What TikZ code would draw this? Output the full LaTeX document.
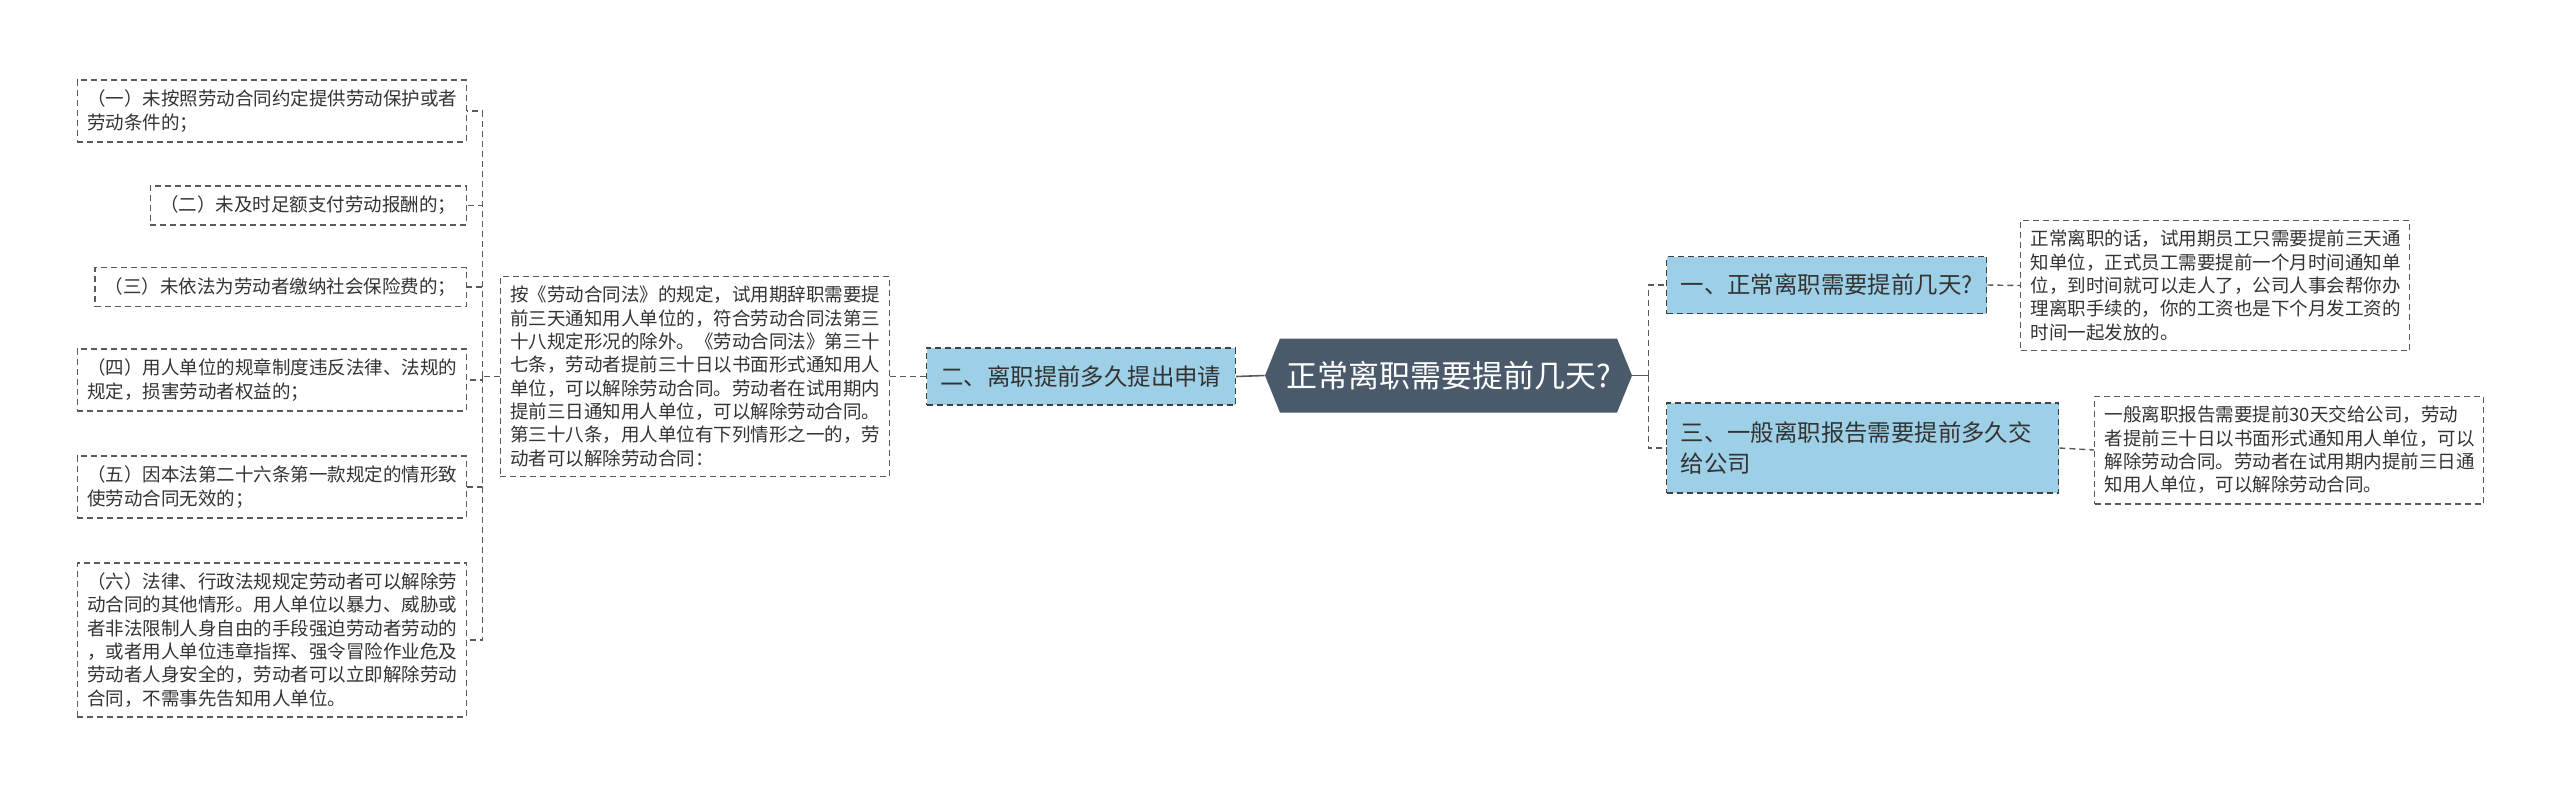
\documentclass[tikz,border=0pt]{standalone}
\usepackage{fontspec}
\setmainfont{Noto Sans CJK SC}
\usetikzlibrary{shapes.symbols}
\definecolor{topicblue}{HTML}{9DCFE6}
\definecolor{rootgray}{HTML}{4B5A6A}
\definecolor{linegray}{HTML}{5A5A5A}
\definecolor{textgray}{HTML}{333333}
\tikzset{
	leaf/.style		= {draw=linegray, line width=0.7pt, dash pattern=on 3pt off 2pt, fill=white,
					   text=textgray, font=\fontsize{9.25}{11.65}\selectfont, align=left,
					   inner xsep=5pt, inner ysep=5pt},
	topic/.style	= {draw=black!75, line width=0.7pt, dash pattern=on 3pt off 2pt, fill=topicblue,
					   text=textgray, font=\fontsize{11.7}{15.5}\selectfont, align=left,
					   inner xsep=7pt, inner ysep=5pt, minimum height=28.5pt},
	root/.style		= {signal, signal to=east and west, signal pointer angle=136, fill=rootgray,
					   text=white, font=\fontsize{15.5}{18}\selectfont,
					   minimum width=183.5pt, minimum height=37pt, inner xsep=2pt},
	link/.style		= {draw=linegray, line width=0.7pt, dash pattern=on 3pt off 2pt},
	trunk/.style	= {draw=linegray, line width=0.8pt}
}
\begin{document}
\begin{tikzpicture}[x=0.5pt, y=-0.5pt]
	% Cadre
	\useasboundingbox (0,0) rectangle (2560,800);
	% Racine
	\node [root] (root) at (1448.5,375.5) {正常离职需要提前几天?};
	% Branche gauche
	\node [topic, anchor=east]	(apply)	at (1236,376.5)	{二、离职提前多久提出申请};
	\node [leaf, anchor=east, text width=184.5pt] (law) at (890,376.5)
		{按《劳动合同法》的规定，试用期辞职需要提\\前三天通知用人单位的，符合劳动合同法第三\\十八规定形况的除外。《劳动合同法》第三十\\七条，劳动者提前三十日以书面形式通知用人\\单位，可以解除劳动合同。劳动者在试用期内\\提前三日通知用人单位，可以解除劳动合同。\\第三十八条，用人单位有下列情形之一的，劳\\动者可以解除劳动合同：};
	% Cas (un) a (six)
	\node [leaf, anchor=east, text width=184.5pt]	(c1) at (467,111)	{（一）未按照劳动合同约定提供劳动保护或者\\劳动条件的；};
	\node [leaf, anchor=east]						(c2) at (467,205.5)	{（二）未及时足额支付劳动报酬的；};
	\node [leaf, anchor=east]						(c3) at (467,287)	{（三）未依法为劳动者缴纳社会保险费的；};
	\node [leaf, anchor=east, text width=184.5pt]	(c4) at (467,380)	{（四）用人单位的规章制度违反法律、法规的\\规定，损害劳动者权益的；};
	\node [leaf, anchor=east, text width=184.5pt]	(c5) at (467,487)	{（五）因本法第二十六条第一款规定的情形致\\使劳动合同无效的；};
	\node [leaf, anchor=east, text width=184.5pt]	(c6) at (467,640)	{（六）法律、行政法规规定劳动者可以解除劳\\动合同的其他情形。用人单位以暴力、威胁或\\者非法限制人身自由的手段强迫劳动者劳动的\\，或者用人单位违章指挥、强令冒险作业危及\\劳动者人身安全的，劳动者可以立即解除劳动\\合同，不需事先告知用人单位。};
	% Branche droite
	\node [topic, anchor=west]	(one)	at (1666,285)	{一、正常离职需要提前几天?};
	\node [topic, anchor=west, text width=182pt, minimum height=45pt] (three) at (1666,448)
		{三、一般离职报告需要提前多久交\\给公司};
	\node [leaf, anchor=west, text width=184.5pt] (r1) at (2020,285.5)
		{正常离职的话，试用期员工只需要提前三天通\\知单位，正式员工需要提前一个月时间通知单\\位，到时间就可以走人了，公司人事会帮你办\\理离职手续的，你的工资也是下个月发工资的\\时间一起发放的。};
	\node [leaf, anchor=west, text width=184.5pt] (r2) at (2094,450)
		{一般离职报告需要提前30天交给公司，劳动\\者提前三十日以书面形式通知用人单位，可以\\解除劳动合同。劳动者在试用期内提前三日通\\知用人单位，可以解除劳动合同。};
	% Liens
	\draw [trunk]	(root.west) -- (apply.east);
	\draw [link]	(apply.west) -- (law.east);
	\draw [link]	(law.west) -- ++(-17,0) coordinate (lfork);
	\foreach \n in {c1,c2,c3,c4,c5,c6}
		\draw [link] (lfork) |- (\n.east);
	\draw [trunk]	(root.east) -- ++(16,0) coordinate (rfork);
	\foreach \n in {one,three}
		\draw [link] (rfork) |- (\n.west);
	\draw [link]	(one.east) -- (r1.west);
	\draw [link]	(three.east) -- (r2.west);
\end{tikzpicture}
\end{document}
